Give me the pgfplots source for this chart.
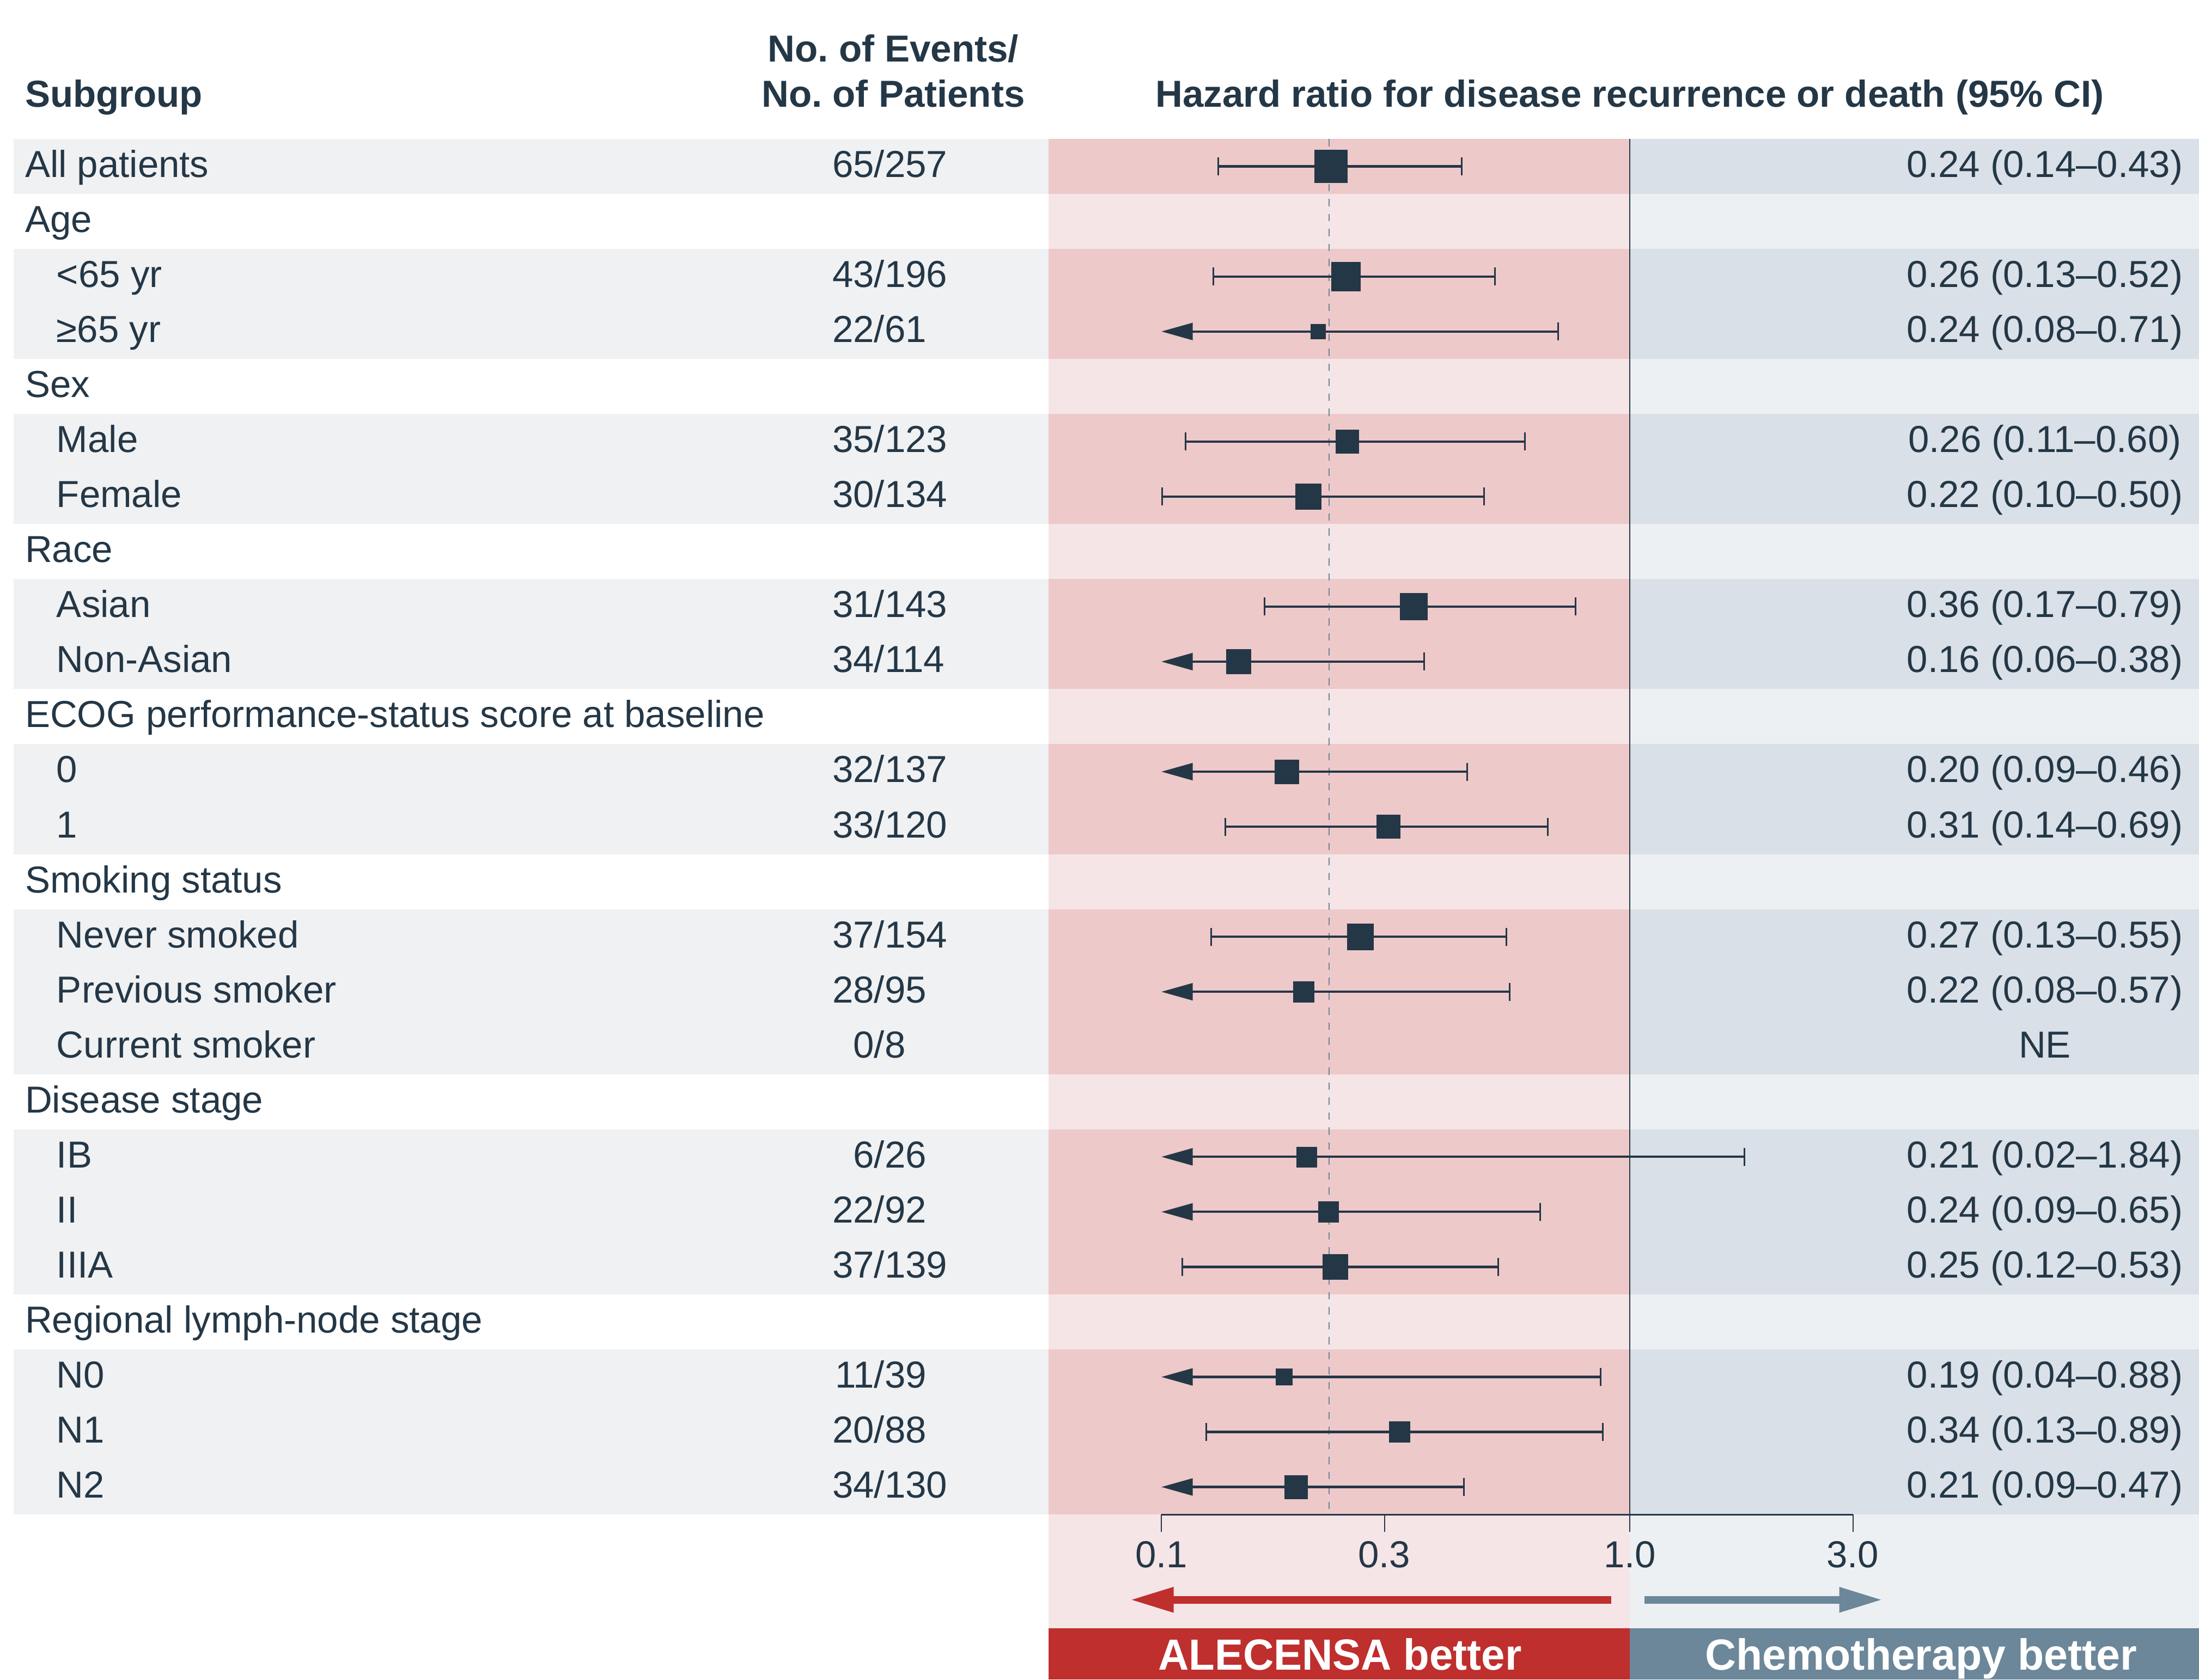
\documentclass[border=0pt]{standalone}
\usepackage{fontspec}
\setmainfont{Liberation Sans}
\usepackage{pgfplots}
\pgfplotsset{compat=1.18}
\usetikzlibrary{arrows.meta}
\frenchspacing
\definecolor{navy}{HTML}{243746}
\definecolor{leftgray}{HTML}{F0F1F3}
\definecolor{pinkdark}{HTML}{EEC9CA}
\definecolor{pinklight}{HTML}{F5E5E6}
\definecolor{bluedark}{HTML}{D9E0E7}
\definecolor{bluelight}{HTML}{EDF0F3}
\definecolor{bannerred}{HTML}{BE2F2D}
\definecolor{bannerblue}{HTML}{6B8799}
\definecolor{dashcol}{HTML}{6E8496}
\newcommand\tf{\fontsize{13.8}{16}\selectfont}
\newcommand\by[1]{224.48+#1*101.04}
\newcommand\rw[6]{%
 \node[anchor=base west] at (#2,{\by{#1}}) {#3};
 \node[anchor=base west] at (1605,{\by{#1}}) {\llap{#4}/#5};
 \node[anchor=base] at (3754,{\by{#1}}) {#6};}
\newcommand\hd[2]{\node[anchor=base west] at (46,{\by{#1}}) {#2};}

\begin{document}
\begin{tikzpicture}[every node/.style={inner sep=0pt, outer sep=0pt, text=navy, font=\tf}]
\useasboundingbox (0,0) rectangle (807.4pt,-616.8pt);
\begin{scope}[x=0.2pt,y=-0.2pt]
\fill[pinklight] (1924.5,255) rectangle (2992,2990);
\fill[bluelight] (2992,255) rectangle (4037,2990);
\foreach \a/\b in {1/1,3/4,6/7,9/10,12/13,15/17,19/21,23/25}{
 \pgfmathsetmacro\ya{255+(\a-1)*101.04}
 \pgfmathsetmacro\yb{255+\b*101.04}
 \fill[leftgray] (25.5,\ya) rectangle (1924.5,\yb);
 \fill[pinkdark] (1924.5,\ya) rectangle (2992,\yb);
 \fill[bluedark] (2992,\ya) rectangle (4037,\yb);
}
\fill[bannerred] (1924.5,2990) rectangle (2992,3084);
\fill[bannerblue] (2992,2990) rectangle (4037,3084);
\end{scope}

\begin{axis}[at={(384.9pt,-51pt)}, anchor=north west, scale only axis,
  width=422.5pt, height=505.2pt, xmode=log, xmin=0.05738, xmax=16.41,
  ymin=0.5, ymax=25.5, y dir=reverse, hide axis, clip=false,
  ci/.style={navy, line width=0.85pt, no markers, arrows={Bar[width=6.6pt,line width=0.6pt]-Bar[width=6.6pt,line width=0.6pt]}},
  cia/.style={navy, line width=0.85pt, no markers, arrows={Triangle[length=11.5pt,width=6.2pt]-Bar[width=6.6pt,line width=0.6pt]}}]
\draw[dashcol, line width=0.4pt, dash pattern=on 2.7pt off 2.8pt] (axis cs:0.2283,0.5) -- (axis cs:0.2283,25.5);
\draw[navy, line width=0.45pt] (axis cs:1,0.5) -- (axis cs:1,25.82);
\addplot[ci]  coordinates {(0.1317,1) (0.4400,1)};
\addplot[ci]  coordinates {(0.1287,3) (0.5176,3)};
\addplot[cia] coordinates {(0.1,4) (0.7062,4)};
\addplot[ci]  coordinates {(0.1122,6) (0.6002,6)};
\addplot[ci]  coordinates {(0.1000,7) (0.4903,7)};
\addplot[ci]  coordinates {(0.1653,9) (0.7691,9)};
\addplot[cia] coordinates {(0.1,10) (0.3655,10)};
\addplot[cia] coordinates {(0.1,12) (0.4511,12)};
\addplot[ci]  coordinates {(0.1365,13) (0.6716,13)};
\addplot[ci]  coordinates {(0.1271,15) (0.5476,15)};
\addplot[cia] coordinates {(0.1,16) (0.5569,16)};
\addplot[cia] coordinates {(0.1,19) (1.7655,19)};
\addplot[cia] coordinates {(0.1,20) (0.6455,20)};
\addplot[ci]  coordinates {(0.1103,21) (0.5264,21)};
\addplot[cia] coordinates {(0.1,23) (0.8695,23)};
\addplot[ci]  coordinates {(0.1242,24) (0.8804,24)};
\addplot[cia] coordinates {(0.1,25) (0.4446,25)};
\addplot[scatter, only marks, mark=square*, point meta=explicit,
  scatter/use mapped color={draw=navy,fill=navy},
  visualization depends on={\thisrow{ms}\as\ms},
  scatter/@pre marker code/.append style={/tikz/mark size=\ms},
  mark options={line width=0.1pt}]
  table[x=hr, y=row, meta=ms] {
row hr ms
1 0.2301 6.00
3 0.2476 5.35
4 0.2162 2.75
6 0.2494 4.27
7 0.2059 4.78
9 0.3456 4.92
10 0.1460 4.51
12 0.1852 4.45
13 0.3055 4.31
15 0.2658 4.75
16 0.2013 3.85
19 0.2045 3.70
20 0.2275 3.73
21 0.2352 4.65
23 0.1827 2.95
24 0.3223 3.79
25 0.1938 4.25
};
\draw[navy, line width=0.6pt] (axis cs:0.1,25.5) -- (axis cs:3,25.5);
\draw[navy, line width=0.4pt] (axis cs:0.1,25.5) -- (axis cs:0.1,25.82);
\draw[navy, line width=0.4pt] (axis cs:0.3,25.5) -- (axis cs:0.3,25.82);
\draw[navy, line width=0.4pt] (axis cs:3,25.5) -- (axis cs:3,25.82);
\end{axis}

\begin{scope}[x=0.2pt,y=-0.2pt]
% headers
\node[anchor=base west, font=\tf\bfseries] at (46,196) {Subgroup};
\node[anchor=base, font=\tf\bfseries] at (1640,113) {No. of Events/};
\node[anchor=base, font=\tf\bfseries] at (1640,196) {No. of Patients};
\node[anchor=base, font=\tf\bfseries] at (2992,196) {Hazard ratio for disease recurrence or death (95\% CI)};
% rows
\rw{1}{46}{All patients}{65}{257}{0.24 (0.14–0.43)}
\hd{2}{Age}
\rw{3}{104}{<65 yr}{43}{196}{0.26 (0.13–0.52)}
\rw{4}{104}{≥65 yr}{22}{61}{0.24 (0.08–0.71)}
\hd{5}{Sex}
\rw{6}{104}{Male}{35}{123}{0.26 (0.11–0.60)}
\rw{7}{104}{Female}{30}{134}{0.22 (0.10–0.50)}
\hd{8}{Race}
\rw{9}{104}{Asian}{31}{143}{0.36 (0.17–0.79)}
\rw{10}{104}{Non-Asian}{34}{114}{0.16 (0.06–0.38)}
\hd{11}{ECOG performance-status score at baseline}
\rw{12}{104}{0}{32}{137}{0.20 (0.09–0.46)}
\rw{13}{104}{1}{33}{120}{0.31 (0.14–0.69)}
\hd{14}{Smoking status}
\rw{15}{104}{Never smoked}{37}{154}{0.27 (0.13–0.55)}
\rw{16}{104}{Previous smoker}{28}{95}{0.22 (0.08–0.57)}
\rw{17}{104}{Current smoker}{0}{8}{NE}
\hd{18}{Disease stage}
\rw{19}{104}{IB}{6}{26}{0.21 (0.02–1.84)}
\rw{20}{104}{II}{22}{92}{0.24 (0.09–0.65)}
\rw{21}{104}{IIIA}{37}{139}{0.25 (0.12–0.53)}
\hd{22}{Regional lymph-node stage}
\rw{23}{104}{N0}{11}{39}{0.19 (0.04–0.88)}
\rw{24}{104}{N1}{20}{88}{0.34 (0.13–0.89)}
\rw{25}{104}{N2}{34}{130}{0.21 (0.09–0.47)}
% tick labels
\node[anchor=base] at (2132,2878) {0.1};
\node[anchor=base] at (2541,2878) {0.3};
\node[anchor=base] at (2992,2878) {1.0};
\node[anchor=base] at (3401,2878) {3.0};
% direction arrows
\draw[bannerred, line width=2.8pt, arrows={-Triangle[length=16pt,width=8.6pt]}] (2957.6,2937.7) -- (2074.5,2937.7);
\draw[bannerblue, line width=2.8pt, arrows={-Triangle[length=16pt,width=8.6pt]}] (3019,2937.7) -- (3456.5,2937.7);
% banner labels
\node[anchor=base, text=white] at (2460,3066) {\scalebox{0.975}[1]{\fontsize{16}{18}\selectfont\bfseries ALECENSA better}};
\node[anchor=base, text=white] at (3527,3066) {\scalebox{0.985}[1]{\fontsize{16}{18}\selectfont\bfseries Chemotherapy better}};
\end{scope}
\end{tikzpicture}
\end{document}
